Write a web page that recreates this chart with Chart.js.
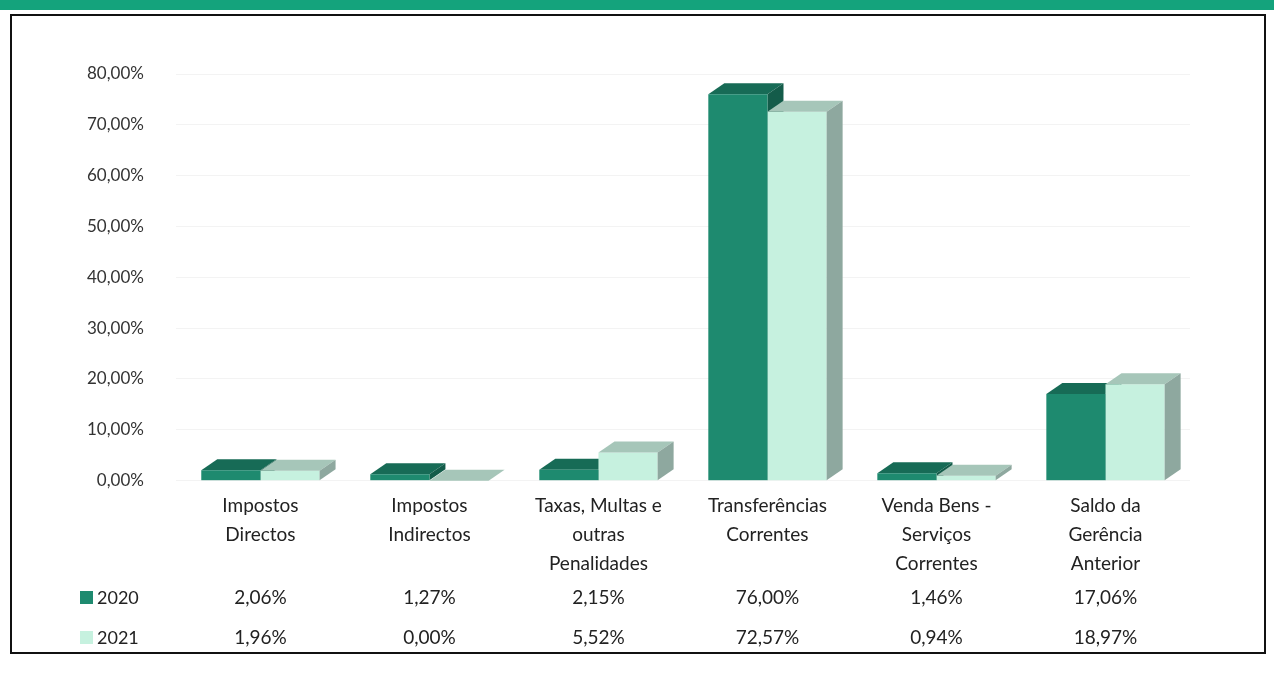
<!DOCTYPE html>
<html>
<head>
<meta charset="utf-8">
<script src="https://cdn.jsdelivr.net/npm/chart.js@4.4.0/dist/chart.umd.min.js"></script>
<style>
  html, body { margin: 0; padding: 0; background: #fff; }
  #wrap { position: relative; width: 1274px; height: 680px; overflow: hidden; }
  #band { position: absolute; left: 0; top: 0; width: 1274px; height: 10px; background: #14a37c; }
  #frame { position: absolute; left: 10px; top: 14px; width: 1256px; height: 640px;
           border: 2px solid #111; box-sizing: border-box; pointer-events: none; }
  #box { position: absolute; left: 0; top: 0; width: 1274px; height: 680px; }
</style>
</head>
<body>
<div id="wrap">
  <div id="band"></div>
  <div id="box"><canvas id="myChart"></canvas></div>
  <div id="frame"></div>
</div>
<script>
// dados
const categorias = [
  ['Impostos', 'Directos'],
  ['Impostos', 'Indirectos'],
  ['Taxas, Multas e', 'outras', 'Penalidades'],
  ['Transferências', 'Correntes'],
  ['Venda Bens -', 'Serviços', 'Correntes'],
  ['Saldo da', 'Gerência', 'Anterior']
]
const valores2020 = [2.06, 1.27, 2.15, 76.00, 1.46, 17.06]
const valores2021 = [1.96, 0.00, 5.52, 72.57, 0.94, 18.97]
const anos = ['2020', '2021']
const ticksY = [0, 10, 20, 30, 40, 50, 60, 70, 80]

const ctx = document.getElementById('myChart')

const cores = [
  { frente: '#1e8a6f', topo: '#176b56', lado: '#145c4a' },
  { frente: '#c6f1df', topo: '#a6c6b9', lado: '#8ea89f' }
]
const DX = 16, DY = -11
const fonte = 'Lato, "Open Sans", sans-serif'

function pct (v) {
  return v.toFixed(2).replace('.', ',') + '%'
}

// desenha topo e lado de uma barra (efeito 3D)
function faces (c, bar, cor) {
  const l = bar.x - bar.width / 2
  const r = bar.x + bar.width / 2
  const t = bar.y
  const b = bar.base
  c.fillStyle = cor.topo
  c.beginPath()
  c.moveTo(l, t); c.lineTo(r, t); c.lineTo(r + DX, t + DY); c.lineTo(l + DX, t + DY)
  c.closePath(); c.fill()
  c.fillStyle = cor.lado
  c.beginPath()
  c.moveTo(r, t); c.lineTo(r + DX, t + DY); c.lineTo(r + DX, b + DY); c.lineTo(r, b)
  c.closePath(); c.fill()
}

const barras3d = {
  id: 'barras3d',
  beforeDatasetsDraw (chart) {
    const c = chart.ctx
    c.save()
    chart.getDatasetMeta(0).data.forEach(bar => faces(c, bar, cores[0]))
    c.restore()
  },
  afterDatasetsDraw (chart) {
    const c = chart.ctx
    c.save()
    chart.getDatasetMeta(1).data.forEach(bar => faces(c, bar, cores[1]))
    c.restore()
  }
}

// tabela de dados por baixo do eixo
const tabela = {
  id: 'tabela',
  afterDraw (chart) {
    const c = chart.ctx
    const x = chart.scales.x
    const linhas = [valores2020, valores2021]
    const ys = [598, 638]
    c.save()
    c.textBaseline = 'middle'
    linhas.forEach((vals, k) => {
      c.fillStyle = cores[k].frente
      c.fillRect(80, ys[k] - 7, 13, 13)
      c.fillStyle = '#222'
      c.textAlign = 'left'
      c.font = '18px ' + fonte
      c.fillText(anos[k], 97, ys[k])
      c.textAlign = 'center'
      c.font = '19px ' + fonte
      vals.forEach((v, i) => c.fillText(pct(v), x.getPixelForValue(i), ys[k]))
    })
    c.restore()
  }
}

new Chart(ctx, {
  type: 'bar',
  data: {
    labels: categorias,
    datasets: [
      {
        label: anos[0],
        data: valores2020,
        backgroundColor: cores[0].frente,
        categoryPercentage: 0.7,
        barPercentage: 1.0
      },
      {
        label: anos[1],
        data: valores2021,
        backgroundColor: cores[1].frente,
        categoryPercentage: 0.7,
        barPercentage: 1.0
      }
    ]
  },
  options: {
    responsive: true,
    maintainAspectRatio: false,
    animation: false,
    layout: { padding: { left: 55, right: 84, top: 74, bottom: 99 } },
    plugins: {
      legend: { display: false },
      tooltip: { enabled: false }
    },
    scales: {
      x: {
        grid: { display: false },
        border: { display: false },
        ticks: {
          color: '#222',
          font: { size: 19, family: fonte, lineHeight: 1.55 },
          padding: 2,
          maxRotation: 0,
          autoSkip: false
        }
      },
      y: {
        min: 0,
        max: 80,
        afterBuildTicks (axis) { axis.ticks = ticksY.map(v => ({ value: v })) },
        grid: { color: '#f3f3f3', drawTicks: false },
        border: { display: false },
        ticks: {
          color: '#333',
          font: { size: 17, family: fonte },
          padding: 32,
          callback: v => pct(v)
        }
      }
    }
  },
  plugins: [barras3d, tabela]
})
</script>
</body>
</html>
